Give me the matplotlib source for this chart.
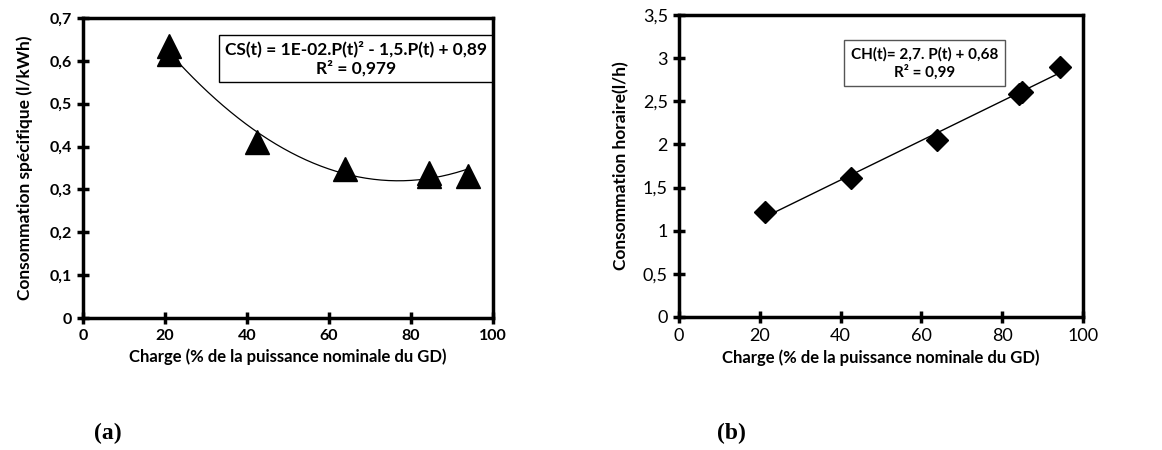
import numpy as np
import matplotlib
matplotlib.use("Agg")
import matplotlib.pyplot as plt
from matplotlib.ticker import FuncFormatter

plt.rcParams["font.family"] = ["Lato", "DejaVu Sans"]

# (a) specific consumption vs load
charge_a = [21, 21, 42.5, 64, 84.5, 84.5, 94]
cs_a = [0.635, 0.615, 0.41, 0.348, 0.338, 0.332, 0.332]

# (b) hourly consumption vs load
charge_b = [21.3, 42.5, 63.8, 84.2, 84.8, 94.3]
ch_b = [1.22, 1.61, 2.05, 2.59, 2.61, 2.90]


def comma(v, pos):
    s = f"{v:g}"
    return s.replace(".", ",")


def style_axes(ax, bold_ticks):
    for sp in ax.spines.values():
        sp.set_linewidth(2.5)
    ax.tick_params(direction="inout", length=9, width=2.5,
                   labelsize=11.5 if bold_ticks else 13)
    ax.yaxis.set_major_formatter(FuncFormatter(comma))
    ax.set_xlim(0, 100)
    ax.set_xticks(np.arange(0, 101, 20))
    for lab in ax.get_xticklabels() + ax.get_yticklabels():
        lab.set_fontweight("bold" if bold_ticks else "normal")


fig = plt.figure(figsize=(11.62, 4.5), dpi=100)
ax1 = fig.add_axes([0.0714, 0.2933, 0.3528, 0.6667])
ax2 = fig.add_axes([0.5843, 0.2956, 0.3477, 0.671])

# left chart
ax1.set_ylim(0, 0.7)
ax1.set_yticks(np.arange(0, 0.71, 0.1))
coef = np.polyfit(charge_a, cs_a, 2)
xs = np.linspace(min(charge_a), max(charge_a), 200)
ax1.plot(xs, np.polyval(coef, xs), color="black", lw=0.9)
ax1.plot(charge_a, cs_a, "^", color="black", ms=17, ls="none")
style_axes(ax1, True)
ax1.set_xlabel("Charge (% de la puissance nominale du GD)", fontsize=12, fontweight="bold")
ax1.set_ylabel("Consommation spécifique (l/kWh)", fontsize=12.5, fontweight="bold", labelpad=12)
ax1.text(0.665, 0.865, "CS(t) = 1E-02.P(t)² - 1,5.P(t) + 0,89\nR² = 0,979",
         transform=ax1.transAxes, ha="center", va="center", fontsize=12.5,
         fontweight="bold", linespacing=1.25,
         bbox=dict(boxstyle="square,pad=0.3", fc="white", ec="black", lw=1))

# right chart
ax2.set_ylim(0, 3.5)
ax2.set_yticks(np.arange(0, 3.51, 0.5))
coef_b = np.polyfit(charge_b, ch_b, 1)
xb = np.linspace(min(charge_b), max(charge_b), 50)
ax2.plot(xb, np.polyval(coef_b, xb), color="black", lw=1)
ax2.plot(charge_b, ch_b, "D", color="black", ms=11, ls="none")
style_axes(ax2, False)
ax2.set_xlabel("Charge (% de la puissance nominale du GD)", fontsize=12, fontweight="bold")
ax2.set_ylabel("Consommation horaire(l/h)", fontsize=12.5, fontweight="bold", labelpad=10)
ax2.text(0.608, 0.841, "CH(t)= 2,7. P(t) + 0,68\nR² = 0,99",
         transform=ax2.transAxes, ha="center", va="center", fontsize=11,
         fontweight="bold", linespacing=1.25,
         bbox=dict(boxstyle="square,pad=0.45", fc="white", ec="#555555", lw=1))

fig.text(0.081, 0.025, "(a)", family="Liberation Serif", fontweight="bold", fontsize=17)
fig.text(0.617, 0.025, "(b)", family="Liberation Serif", fontweight="bold", fontsize=17)

fig.savefig("out.png", dpi=100)
